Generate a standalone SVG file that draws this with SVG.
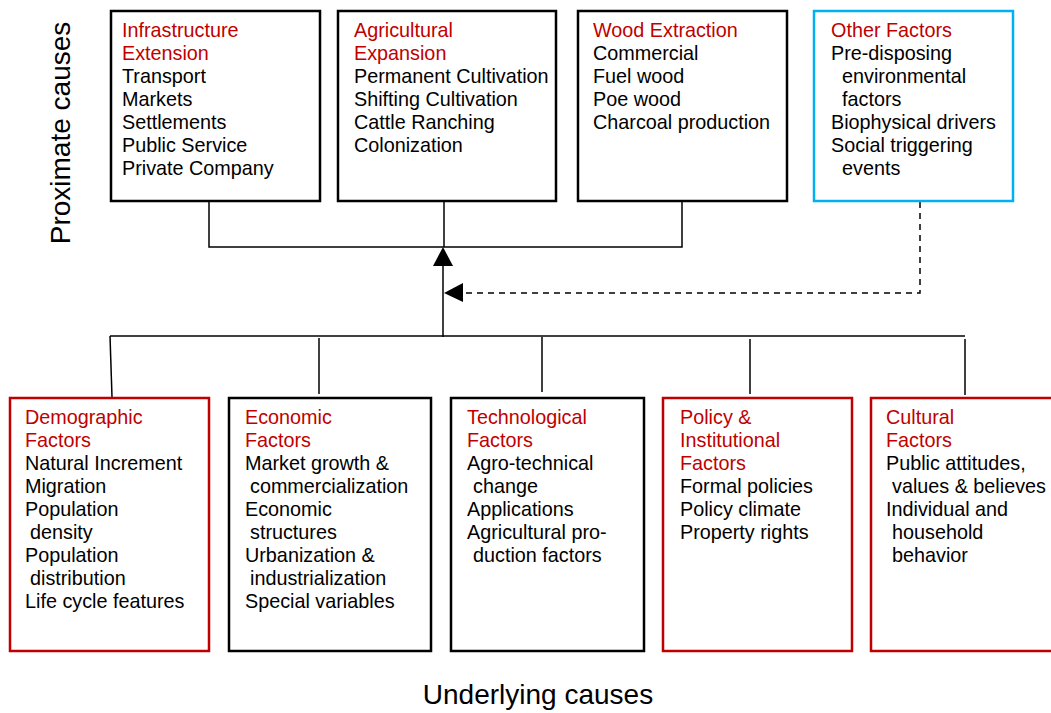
<svg xmlns="http://www.w3.org/2000/svg" width="1051" height="713" viewBox="0 0 1051 713">
<defs>
<style>
text{font-family:"Liberation Sans",Arial,sans-serif;font-size:19.8px;fill:#000}
.h{fill:#C00000}
.big{font-size:28px}
.bk{fill:#fff;stroke:#000;stroke-width:2.5}
.rd{fill:#fff;stroke:#C00000;stroke-width:2.5}
.bl{fill:#fff;stroke:#00B0F0;stroke-width:2.5}
.ln{fill:none;stroke:#000;stroke-width:1.5}
.dash{fill:none;stroke:#000;stroke-width:1.5;stroke-dasharray:6 5}
</style>
</defs>
<rect width="1051" height="713" fill="#fff"/>
<g id="connectors">
<polyline class="ln" points="209,201 209,247 682,247 682,201"/>
<line class="ln" x1="444" y1="201" x2="444" y2="247"/>
<line class="ln" x1="443" y1="262" x2="443" y2="337"/>
<polygon points="443,247 433,266 453,266" fill="#000"/>
<polyline class="dash" points="920,202 920,293 464,293"/>
<polygon points="444,293 463,283 463,302" fill="#000"/>
<line class="ln" x1="110" y1="336" x2="965" y2="336"/>
<line class="ln" x1="110" y1="336" x2="112" y2="397"/>
<line class="ln" x1="319" y1="338" x2="319" y2="394"/>
<line class="ln" x1="542" y1="337" x2="542" y2="392"/>
<line class="ln" x1="750" y1="339" x2="750" y2="394"/>
<line class="ln" x1="965" y1="339" x2="965" y2="395"/>
</g>
<g id="label-proximate"><text class="big" transform="translate(70,133) rotate(-90)" text-anchor="middle">Proximate causes</text></g>
<g id="label-underlying"><text class="big" x="538" y="704" text-anchor="middle">Underlying causes</text></g>
<g id="infrastructure">
<rect class="bk" x="111" y="11" width="209" height="190"/>
<text x="122" y="37"><tspan class="h">Infrastructure</tspan><tspan class="h" x="122" dy="23">Extension</tspan><tspan x="122" dy="23">Transport</tspan><tspan x="122" dy="23">Markets</tspan><tspan x="122" dy="23">Settlements</tspan><tspan x="122" dy="23">Public Service</tspan><tspan x="122" dy="23">Private Company</tspan></text>
</g>
<g id="agricultural">
<rect class="bk" x="338" y="11" width="218" height="190"/>
<text x="354" y="37"><tspan class="h">Agricultural</tspan><tspan class="h" x="354" dy="23">Expansion</tspan><tspan x="354" dy="23">Permanent Cultivation</tspan><tspan x="354" dy="23">Shifting Cultivation</tspan><tspan x="354" dy="23">Cattle Ranching</tspan><tspan x="354" dy="23">Colonization</tspan></text>
</g>
<g id="wood">
<rect class="bk" x="578" y="11" width="209" height="190"/>
<text x="593" y="37"><tspan class="h">Wood Extraction</tspan><tspan x="593" dy="23">Commercial</tspan><tspan x="593" dy="23">Fuel wood</tspan><tspan x="593" dy="23">Poe wood</tspan><tspan x="593" dy="23">Charcoal production</tspan></text>
</g>
<g id="other">
<rect class="bl" x="814" y="11" width="199" height="190"/>
<text x="831" y="37"><tspan class="h">Other Factors</tspan><tspan x="831" dy="23">Pre-disposing</tspan><tspan x="842" dy="23">environmental</tspan><tspan x="842" dy="23">factors</tspan><tspan x="831" dy="23">Biophysical drivers</tspan><tspan x="831" dy="23">Social triggering</tspan><tspan x="842" dy="23">events</tspan></text>
</g>
<g id="demographic">
<rect class="rd" x="10" y="398" width="199" height="253"/>
<text x="25" y="424"><tspan class="h">Demographic</tspan><tspan class="h" x="25" dy="23">Factors</tspan><tspan x="25" dy="23">Natural Increment</tspan><tspan x="25" dy="23">Migration</tspan><tspan x="25" dy="23">Population</tspan><tspan x="30" dy="23">density</tspan><tspan x="25" dy="23">Population</tspan><tspan x="30" dy="23">distribution</tspan><tspan x="25" dy="23">Life cycle features</tspan></text>
</g>
<g id="economic">
<rect class="bk" x="229" y="398" width="202" height="253"/>
<text x="245" y="424"><tspan class="h">Economic</tspan><tspan class="h" x="245" dy="23">Factors</tspan><tspan x="245" dy="23">Market growth &amp;</tspan><tspan x="250" dy="23">commercialization</tspan><tspan x="245" dy="23">Economic</tspan><tspan x="250" dy="23">structures</tspan><tspan x="245" dy="23">Urbanization &amp;</tspan><tspan x="250" dy="23">industrialization</tspan><tspan x="245" dy="23">Special variables</tspan></text>
</g>
<g id="technological">
<rect class="bk" x="451" y="398" width="193" height="253"/>
<text x="467" y="424"><tspan class="h">Technological</tspan><tspan class="h" x="467" dy="23">Factors</tspan><tspan x="467" dy="23">Agro-technical</tspan><tspan x="473" dy="23">change</tspan><tspan x="467" dy="23">Applications</tspan><tspan x="467" dy="23">Agricultural pro-</tspan><tspan x="473" dy="23">duction factors</tspan></text>
</g>
<g id="policy">
<rect class="rd" x="663" y="398" width="189" height="253"/>
<text x="680" y="424"><tspan class="h">Policy &amp;</tspan><tspan class="h" x="680" dy="23">Institutional</tspan><tspan class="h" x="680" dy="23">Factors</tspan><tspan x="680" dy="23">Formal policies</tspan><tspan x="680" dy="23">Policy climate</tspan><tspan x="680" dy="23">Property rights</tspan></text>
</g>
<g id="cultural">
<rect class="rd" x="871" y="398" width="190" height="253"/>
<text x="886" y="424"><tspan class="h">Cultural</tspan><tspan class="h" x="886" dy="23">Factors</tspan><tspan x="886" dy="23">Public attitudes,</tspan><tspan x="892" dy="23">values &amp; believes</tspan><tspan x="886" dy="23">Individual and</tspan><tspan x="892" dy="23">household</tspan><tspan x="892" dy="23">behavior</tspan></text>
</g>
</svg>
